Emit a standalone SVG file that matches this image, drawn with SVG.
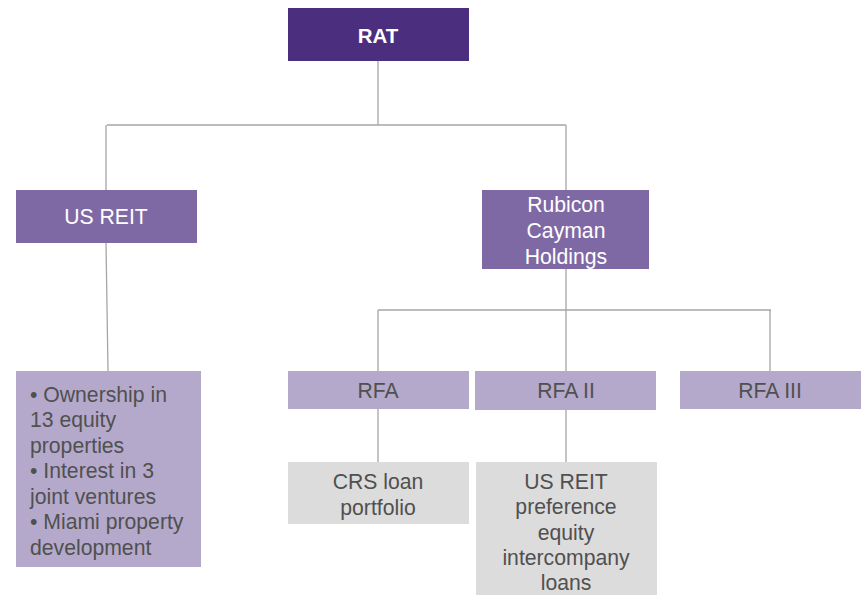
<svg xmlns="http://www.w3.org/2000/svg" width="867" height="595" viewBox="0 0 867 595">
<style>
.t{font-family:'Liberation Sans',Arimo,Helvetica,Arial,sans-serif;font-size:21.2px;text-anchor:middle;dominant-baseline:central}
.w{fill:#ffffff}
.d{fill:#505050}
.c{stroke:#a6a6a6;stroke-width:1.3;fill:none}
</style>
<rect width="867" height="595" fill="#ffffff"/>
<g id="connectors">
<path class="c" d="M378 61V125M107 125H566M106 125V190M566 125V190"/>
<path class="c" d="M106 243L108 371"/>
<path class="c" d="M566 269V371M378 310H771M378 310V371M770 310V371"/>
<path class="c" d="M378 409V462M566 410V462"/>
</g>
<g id="rat">
<rect x="288" y="8" width="181" height="53" fill="#4b2e7d"/>
<text class="t w" x="378" y="35" font-weight="bold" style="font-size:20.5px">RAT</text>
</g>
<g id="usreit">
<rect x="16" y="190" width="181" height="53" fill="#7f69a5"/>
<text class="t w" x="106" y="216">US REIT</text>
</g>
<g id="rubicon">
<rect x="482" y="190" width="167" height="79" fill="#7f69a5"/>
<text class="t w" x="566" y="204">Rubicon</text>
<text class="t w" x="566" y="230">Cayman</text>
<text class="t w" x="566" y="256">Holdings</text>
</g>
<g id="usreit-assets">
<rect x="16" y="371" width="185" height="196" fill="#b4a9cb"/>
<g class="t d" style="text-anchor:start">
<text x="30" y="394">• Ownership in</text>
<text x="30" y="419.5">13 equity</text>
<text x="30" y="445">properties</text>
<text x="30" y="470.5">• Interest in 3</text>
<text x="30" y="496">joint ventures</text>
<text x="30" y="521.5">• Miami property</text>
<text x="30" y="547">development</text>
</g>
</g>
<g id="rfa">
<rect x="288" y="371" width="181" height="38" fill="#b4a9cb"/>
<text class="t d" x="378" y="390">RFA</text>
</g>
<g id="rfa2">
<rect x="475" y="371" width="181" height="39" fill="#b4a9cb"/>
<text class="t d" x="566" y="390">RFA II</text>
</g>
<g id="rfa3">
<rect x="680" y="371" width="181" height="38" fill="#b4a9cb"/>
<text class="t d" x="770" y="390">RFA III</text>
</g>
<g id="crs">
<rect x="288" y="462" width="181" height="62" fill="#dcdcdc"/>
<text class="t d" x="378" y="481">CRS loan</text>
<text class="t d" x="378" y="507">portfolio</text>
</g>
<g id="pref">
<rect x="476" y="462" width="181" height="133" fill="#dcdcdc"/>
<text class="t d" x="566" y="481">US REIT</text>
<text class="t d" x="566" y="506">preference</text>
<text class="t d" x="566" y="532">equity</text>
<text class="t d" x="566" y="557">intercompany</text>
<text class="t d" x="566" y="582">loans</text>
</g>
</svg>
